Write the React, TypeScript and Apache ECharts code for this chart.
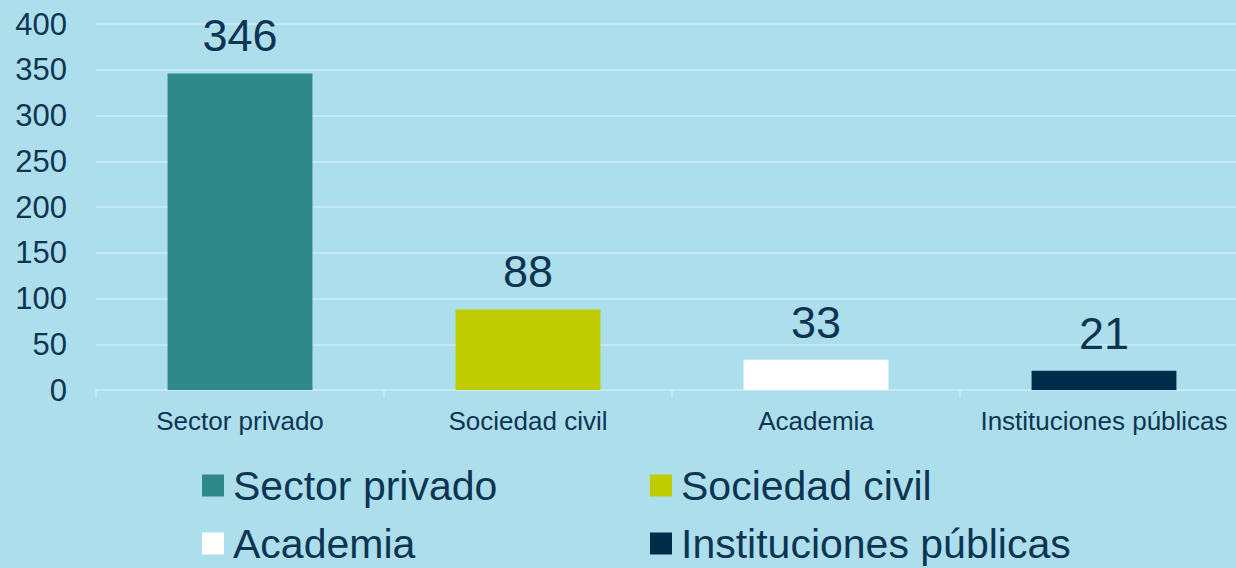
import React, { useEffect, useRef } from "react";
import * as echarts from "echarts";

const categories = ["Sector privado", "Sociedad civil", "Academia", "Instituciones públicas"];
const values = [346, 88, 33, 21];
const colors = ["#2F8988", "#BFCC00", "#FFFFFF", "#012D4A"];
const yTicks = { min: 0, max: 400, interval: 50 };

const TEXT = "#0D3553";
const FONT = 'Arial, "Liberation Sans", sans-serif';
const GRID = "#C6E9FA";

export default function App() {
  const ref = useRef<HTMLDivElement>(null);
  useEffect(() => {
    const chart = echarts.init(ref.current!, null, { renderer: "svg" });
    const series = categories.map((name, i) => ({
      name,
      type: "bar",
      stack: "total",
      barWidth: "50.3%",
      itemStyle: { color: colors[i] },
      label: {
        show: true,
        position: "top",
        distance: 15,
        color: TEXT,
        fontSize: 45,
        fontFamily: FONT,
      },
      data: categories.map((_, j) => (j === i ? values[i] : "-")),
    }));
    const legendPos = [
      { left: 202, top: 465 },
      { left: 650, top: 465 },
      { left: 202, top: 523 },
      { left: 650, top: 523 },
    ];
    const legends = categories.map((name, i) => ({
      data: [name],
      left: legendPos[i].left,
      top: legendPos[i].top,
      padding: 0,
      itemWidth: 22,
      itemHeight: 22,
      icon: "rect",
      selectedMode: false,
      textStyle: {
        color: TEXT,
        fontSize: 41,
        lineHeight: 38,
        fontFamily: FONT,
        padding: [0, 0, 0, 4],
      },
    }));
    chart.setOption({
      animation: false,
      backgroundColor: "#ADDEEB",
      grid: { left: 96, right: 0, top: 24, bottom: 178, containLabel: false },
      legend: legends,
      xAxis: {
        type: "category",
        data: categories,
        axisLine: { show: true, lineStyle: { color: GRID, width: 2 } },
        axisTick: { show: true, length: 7, alignWithLabel: false, lineStyle: { color: GRID, width: 2 } },
        axisLabel: { color: TEXT, fontSize: 26, fontFamily: FONT, margin: 18, interval: 0 },
      },
      yAxis: {
        type: "value",
        min: yTicks.min,
        max: yTicks.max,
        interval: yTicks.interval,
        axisLine: { show: false },
        axisTick: { show: false },
        splitLine: { lineStyle: { color: GRID, width: 2 } },
        axisLabel: { color: TEXT, fontSize: 31, fontFamily: FONT, margin: 29 },
      },
      series,
    });
    return () => chart.dispose();
  }, []);
  return (
    <div
      style={{
        position: "absolute",
        left: 0,
        top: 0,
        width: 1236,
        height: 568,
        overflow: "hidden",
        background: "#ADDEEB",
      }}
    >
      <div ref={ref} style={{ width: 1248, height: 568 }} />
    </div>
  );
}
